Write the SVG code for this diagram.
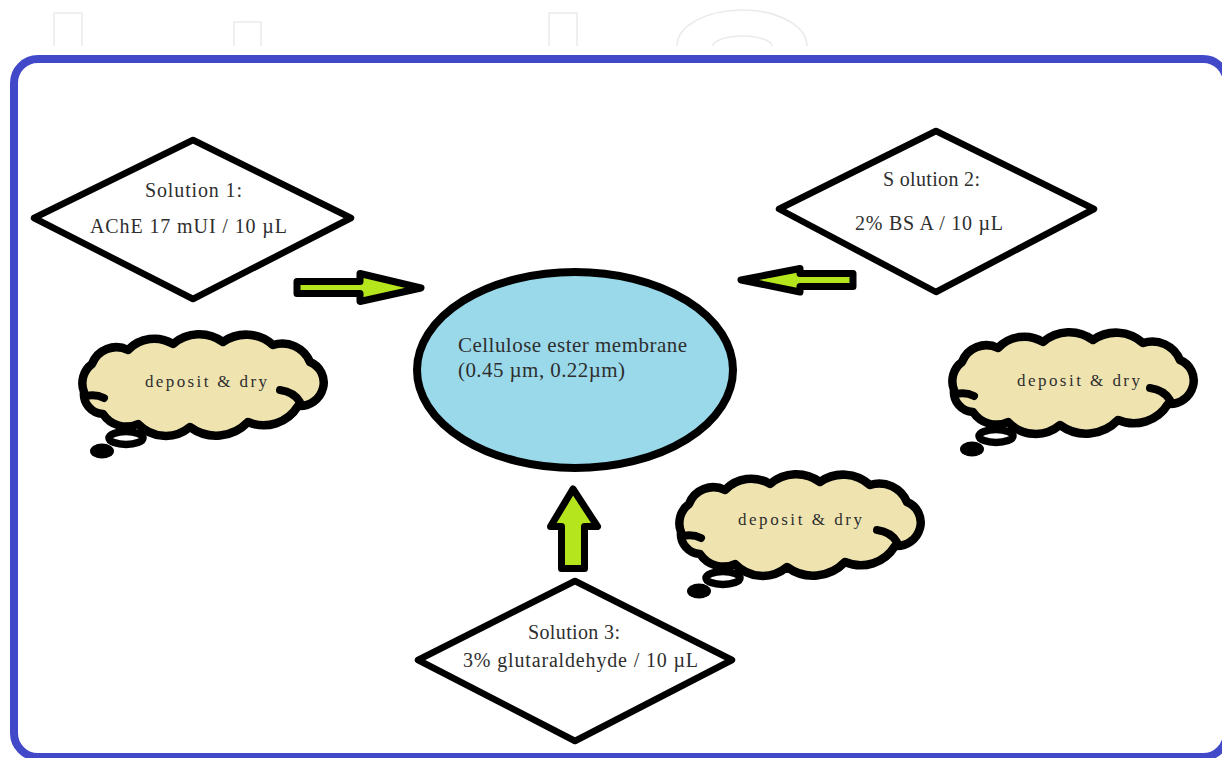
<svg xmlns="http://www.w3.org/2000/svg" xmlns:xlink="http://www.w3.org/1999/xlink" width="1222" height="758" viewBox="0 0 1222 758">
<style>
.wm{fill:none;stroke:#ebebeb;stroke-width:1.6}
.frame{fill:#ffffff;stroke:#4149c9;stroke-width:8}
.dia{fill:#ffffff;stroke:#000000;stroke-width:6.5;stroke-linejoin:round}
.memb{fill:#99d9ea;stroke:#000000;stroke-width:8}
.cloud{fill:#efe4b0;stroke:#000000;stroke-width:8.5;stroke-linejoin:round}
.hook{fill:none;stroke:#000000;stroke-width:8;stroke-linecap:round}
.arr{fill:#b5e61d;stroke:#000000;stroke-width:7;stroke-linejoin:round}
.t{font-family:"Liberation Serif","Times New Roman",serif;font-size:20px;fill:#2e2e2e}
.tm{font-family:"Liberation Serif","Times New Roman",serif;font-size:21px;fill:#2e2e2e}
.tc{font-family:"Liberation Serif","Times New Roman",serif;font-size:17px;fill:#2e2e2e}
</style>
<defs>
<g id="cloudShape">
<ellipse cx="48" cy="108" rx="17" ry="6.5" fill="#ffffff" stroke="#000" stroke-width="7.5"/>
<ellipse cx="24" cy="121" rx="12" ry="7.5" fill="#000"/>
<path class="cloud" d="M6,62 A24,24 0 0 1 14,34 A26,26 0 0 1 50,20 A36,36 0 0 1 95,14 A40,40 0 0 1 145,12 A40,40 0 0 1 195,15 A30,30 0 0 1 232,32 A22,22 0 0 1 245,58 A24,24 0 0 1 220,76 A40,40 0 0 1 170,92 A44,44 0 0 1 112,97 A38,38 0 0 1 60,94 A28,28 0 0 1 25,84 A20,20 0 0 1 6,62 Z"/>
<path class="hook" d="M202,60 Q216,62 222,72"/>
<path class="hook" d="M8,66 Q18,64 26,68"/>
</g>
</defs>
<rect width="1222" height="758" fill="#ffffff"/>
<g id="watermark">
<path class="wm" d="M54,46 V13 H82 V46"/>
<path class="wm" d="M234,46 V22 H261 V46"/>
<path class="wm" d="M549,46 V13 H577 V46"/>
<path class="wm" d="M677,46 A65,36 0 0 1 807,46"/>
<path class="wm" d="M713,46 A29.5,10 0 0 1 772,46"/>
</g>
<g id="frame">
<rect class="frame" x="14" y="59" width="1213" height="698" rx="24" ry="24"/>
</g>
<g id="connectors">
<polygon class="arr" points="297,281.5 360,281.5 360,273.5 421,288 360,301.5 360,293.5 297,293.5"/>
<polygon class="arr" points="853,273.5 800,273.5 800,268.5 741,280 800,292 800,286.5 853,286.5"/>
<polygon class="arr" points="561.5,568.5 561.5,526.5 550.5,526.5 573,489 597.5,526.5 584.5,526.5 584.5,568.5"/>
</g>
<g id="solution1">
<polygon class="dia" points="34,218 193,140 351,218 193,299"/>
<text class="t" x="145" y="197" textLength="97" lengthAdjust="spacing">Solution 1:</text>
<text class="t" x="90" y="233" textLength="197" lengthAdjust="spacing">AChE 17 mUI / 10 µL</text>
</g>
<g id="solution2">
<polygon class="dia" points="779,209 936,131 1094,209 936,292"/>
<text class="t" x="883" y="186" textLength="97" lengthAdjust="spacing">S olution 2:</text>
<text class="t" x="855" y="230" textLength="148" lengthAdjust="spacing">2% BS A / 10 µL</text>
</g>
<g id="solution3">
<polygon class="dia" points="418,660 575,581 732,660 575,741"/>
<text class="t" x="528" y="639" textLength="92" lengthAdjust="spacing">Solution 3:</text>
<text class="t" x="463" y="667" textLength="235" lengthAdjust="spacing">3% glutaraldehyde / 10 µL</text>
</g>
<g id="membrane">
<ellipse class="memb" cx="575" cy="370" rx="158" ry="98"/>
<text class="tm" x="458" y="352" textLength="229" lengthAdjust="spacing">Cellulose ester membrane</text>
<text class="tm" x="458" y="377" textLength="167" lengthAdjust="spacing">(0.45 µm, 0.22µm)</text>
</g>
<g id="cloud1">
<use xlink:href="#cloudShape" x="78" y="330"/>
<text class="tc" x="145" y="387" textLength="122" lengthAdjust="spacing">deposit &amp; dry</text>
</g>
<g id="cloud2">
<use xlink:href="#cloudShape" x="948" y="328"/>
<text class="tc" x="1017" y="386" textLength="123" lengthAdjust="spacing">deposit &amp; dry</text>
</g>
<g id="cloud3">
<use xlink:href="#cloudShape" x="675" y="470"/>
<text class="tc" x="738" y="525" textLength="124" lengthAdjust="spacing">deposit &amp; dry</text>
</g>
</svg>
